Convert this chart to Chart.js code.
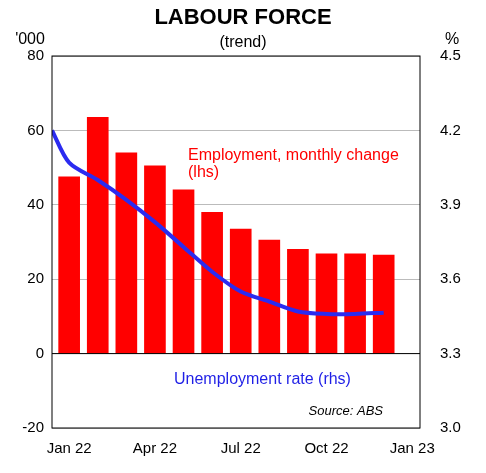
<!DOCTYPE html><html><head><script src="https://cdn.jsdelivr.net/npm/chart.js"></script>
<style>body{margin:0;background:#fff}#w{width:486px;height:473px}</style></head><body><div id="w"><canvas id="c"></canvas></div>
<script>
const monthIdx=[0,1,2,3,4,5,6,7,8,9,10,11];
const employment=[47.5,63.5,54,50.5,44,38,33.5,30.5,28,26.8,26.8,26.5];
const unempX=[-0.6,0,1,2,3,4,5,6,7,8,9,10,11];
const unemp=[4.20,4.07,4.00,3.92,3.83,3.73,3.63,3.55,3.51,3.47,3.46,3.46,3.465];
const tickLabels={0:'Jan 22',3:'Apr 22',6:'Jul 22',9:'Oct 22',12:'Jan 23'};
const F='"Liberation Sans", Arial, sans-serif';
const txt={id:'txt',afterDraw(c){const x=c.ctx;x.save();x.textBaseline='middle';
x.fillStyle='#000';x.font='bold 22px '+F;x.textAlign='center';x.fillText('LABOUR FORCE',243,18);
x.font='16px '+F;x.fillText('(trend)',243,43);x.fillText("'000",30,40);x.fillText('%',452,40);
x.fillStyle='#f00';x.textAlign='left';x.font='16px '+F;x.fillText('Employment, monthly change',188,156);x.fillText('(lhs)',188,173);
x.fillStyle='#1f1fe6';x.fillText('Unemployment rate (rhs)',174,380);
x.fillStyle='#000';x.font='italic 13px '+F;x.textAlign='right';x.fillText('Source: ABS',383,411);
const a=c.chartArea;x.strokeStyle='#000';x.lineWidth=1;x.strokeRect(a.left,a.top,a.right-a.left,a.bottom-a.top);
const y0=c.scales.y.getPixelForValue(0);x.beginPath();x.moveTo(a.left,y0);x.lineTo(a.right,y0);x.stroke();x.restore();}};
new Chart(document.getElementById('c'),{data:{datasets:[
{type:'line',data:unempX.map((v,i)=>({x:v,y:unemp[i]})),yAxisID:'y2',borderColor:'#2b2bf0',borderWidth:4,pointRadius:0,tension:0.3,order:0},
{type:'bar',data:monthIdx.map((v,i)=>({x:v,y:employment[i]})),yAxisID:'y',backgroundColor:'#ff0000',barThickness:21,order:1}]},
plugins:[txt],options:{responsive:true,maintainAspectRatio:false,animation:false,
layout:{padding:{top:56,bottom:4,left:0,right:0}},
plugins:{legend:{display:false},tooltip:{enabled:false}},
scales:{x:{type:'linear',offset:false,min:-0.6,max:12.27,grid:{display:false},border:{display:false},
afterBuildTicks(s){s.ticks=[0,3,6,9,12].map(v=>({value:v}));},
afterFit(s){s.height=41;},
ticks:{color:'#000',font:{size:15,family:F},maxRotation:0,autoSkip:false,padding:4,callback:v=>tickLabels[v]||''}},
y:{min:-20,max:80,position:'left',afterFit(s){s.width=52;},grid:{color:'#bbb',drawTicks:false},border:{display:false},
ticks:{stepSize:20,color:'#000',font:{size:15,family:F},padding:8}},
y2:{min:3.0,max:4.5,position:'right',afterFit(s){s.width=66;},grid:{display:false},border:{display:false},
ticks:{stepSize:0.3,color:'#000',font:{size:15,family:F},padding:12,callback:v=>v.toFixed(1)}}}}});
</script></body></html>
